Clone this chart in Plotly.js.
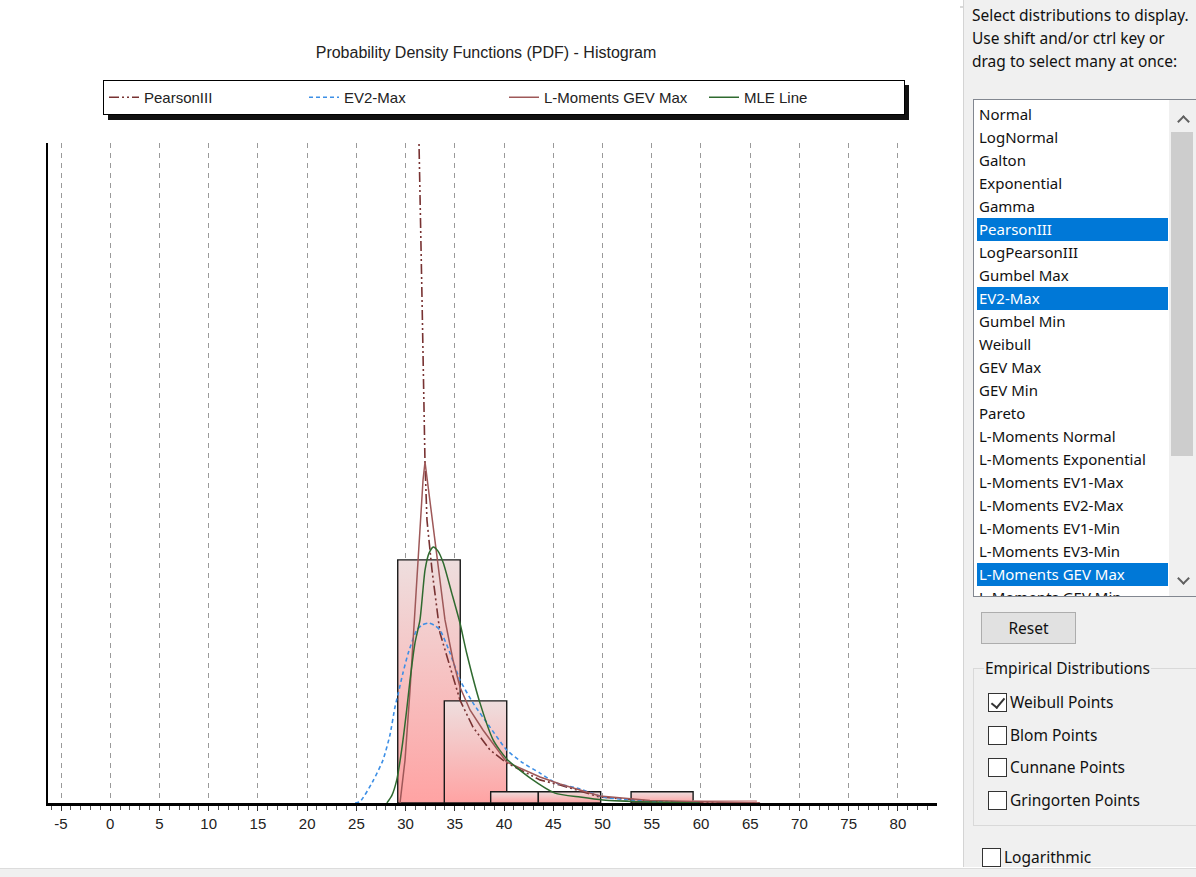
<!DOCTYPE html>
<html>
<head>
<meta charset="utf-8">
<script src="https://cdn.plot.ly/plotly-3.0.1.min.js"></script>
<style>
  html,body{margin:0;padding:0;}
  body{width:1196px;height:877px;overflow:hidden;background:#fff;position:relative;font-family:'Noto Sans',sans-serif;color:#111;}
  #chart{position:absolute;left:0;top:0;width:960px;height:877px;}
  .topline{position:absolute;top:6px;height:2px;background:#d9d9d9;}
  #bottomstrip{position:absolute;left:0;top:868px;width:1196px;height:9px;background:#f0f0f0;border-top:1px solid #dcdcdc;}
  #panel{position:absolute;left:963px;top:0;width:233px;height:867px;background:#f0f0f0;border-left:1px solid #d4d4d4;}
  #hdr{position:absolute;left:8px;top:4px;font-size:15.5px;line-height:23px;white-space:nowrap;}
  #list{position:absolute;left:9px;top:99px;width:223px;height:496px;background:#fff;border:1px solid #828790;overflow:hidden;}
  .item{position:absolute;left:3px;width:191px;height:23px;line-height:23px;font-size:15px;padding-left:2px;box-sizing:border-box;white-space:nowrap;}
  .item.sel{background:#0078d7;color:#fff;}
  #sb{position:absolute;left:195px;top:0;width:28px;height:496px;background:#f0f0f0;}
  #thumb{position:absolute;left:2px;top:32px;width:22px;height:324px;background:#cdcdcd;}
  .chev{position:absolute;width:7px;height:7px;border-left:2px solid #606060;border-top:2px solid #606060;}
  #reset{position:absolute;left:17px;top:612px;width:95px;height:32px;background:#e1e1e1;border:1px solid #adadad;box-sizing:border-box;font-size:15.5px;line-height:30px;text-align:center;}
  #group{position:absolute;left:9px;top:668px;width:230px;height:158px;border:1px solid #d9d9d9;box-sizing:border-box;}
  #glabel{position:absolute;left:20px;top:656px;background:#f0f0f0;font-size:15.5px;line-height:24px;padding:0 1px;white-space:nowrap;}
  .cb{position:absolute;width:19px;height:19px;border:1px solid #333;background:#fff;box-sizing:border-box;}
  .cbl{position:absolute;font-size:15.5px;line-height:20px;white-space:nowrap;}
  .tick{position:absolute;left:5px;top:1px;width:6px;height:11px;border-right:2px solid #333;border-bottom:2px solid #333;transform:rotate(40deg);}
</style>
</head>
<body>
<div class="topline" style="left:0;width:215px;"></div>
<div class="topline" style="left:485px;width:478px;"></div>
<div id="chart"></div>
<div id="bottomstrip"></div>
<div id="panel"></div>
<script>
// ---------------- DATA ----------------
const binLeft    = [29.2, 33.93, 38.64, 43.48, 52.9, 59.2];
const binRight   = [35.55, 40.27, 43.48, 49.81, 59.2, 65.6];
const binDensity = [0.1105, 0.0464, 0.0051, 0.0051, 0.0051, 0.0009];

const pearsonX = [31.3, 31.36, 31.67, 31.82, 31.97, 32.17, 32.68, 33.49, 34.51, 35.52, 36.84, 38.57, 40.27, 43.65, 45.68, 49.73, 54.82, 59.89, 66.0];
const pearsonY = [0.36, 0.300, 0.2286, 0.1832, 0.1545, 0.1286, 0.1059, 0.0773, 0.0618, 0.0468, 0.0345, 0.0241, 0.0182, 0.0105, 0.0082, 0.0027, 0.0009, 0.0002, 0];

const ev2X = [24.87, 25.37, 26.69, 27.7, 28.41, 28.92, 29.26, 29.73, 30.27, 31.13, 31.67, 32.3, 32.88, 33.49, 34.51, 35.52, 36.84, 38.57, 40.27, 41.92, 43.65, 45.27, 47.72, 50.05, 52.79, 55.84, 59.89];
const ev2Y = [0, 0.0006, 0.010, 0.0195, 0.0309, 0.0436, 0.050, 0.0591, 0.0682, 0.0786, 0.0809, 0.0818, 0.0809, 0.0786, 0.0682, 0.056, 0.0455, 0.0345, 0.0241, 0.0182, 0.0136, 0.0091, 0.0064, 0.0027, 0.0014, 0.0005, 0];

const lgevX = [29.43, 29.94, 30.45, 30.76, 31.16, 31.46, 31.77, 31.97, 32.47, 33.08, 33.59, 34.0, 34.81, 35.52, 36.54, 37.86, 40.27, 43.65, 45.68, 49.73, 54.82, 59.89, 66.0];
const lgevY = [0, 0.0195, 0.0514, 0.0741, 0.1014, 0.1286, 0.1468, 0.155, 0.1377, 0.115, 0.0968, 0.0832, 0.065, 0.0527, 0.0423, 0.0332, 0.0186, 0.0118, 0.0086, 0.0032, 0.0011, 0.0005, 0];

const mleX = [28.1, 28.62, 29.1, 29.6, 30.11, 30.45, 30.95, 31.46, 31.97, 32.38, 32.81, 33.29, 33.83, 34.68, 35.52, 36.2, 37.55, 38.9, 40.27, 42.63, 45.17, 47.72, 50.05, 54.82, 59.89];
const mleY = [0, 0.0036, 0.0105, 0.0241, 0.0423, 0.0559, 0.0727, 0.0832, 0.1059, 0.1136, 0.1164, 0.1145, 0.1091, 0.0955, 0.0818, 0.0682, 0.0455, 0.0286, 0.020, 0.0114, 0.0045, 0.0027, 0.0014, 0.0005, 0];

const seriesNames = ["PearsonIII", "EV2-Max", "L-Moments GEV Max", "MLE Line"];
const xTickVals = [-5, 0, 5, 10, 15, 20, 25, 30, 35, 40, 45, 50, 55, 60, 65, 70, 75, 80];

const distributions = ["Normal","LogNormal","Galton","Exponential","Gamma","PearsonIII","LogPearsonIII","Gumbel Max","EV2-Max","Gumbel Min","Weibull","GEV Max","GEV Min","Pareto","L-Moments Normal","L-Moments Exponential","L-Moments EV1-Max","L-Moments EV2-Max","L-Moments EV1-Min","L-Moments EV3-Min","L-Moments GEV Max","L-Moments GEV Min"];
const selectedDistributions = ["PearsonIII","EV2-Max","L-Moments GEV Max"];
const empiricalOptions = ["Weibull Points","Blom Points","Cunnane Points","Gringorten Points"];
const empiricalChecked = [true, false, false, false];

// ---------------- CHART ----------------
const fam = "'Liberation Sans', Arial, sans-serif";
const traces = [];
for (let i = 0; i < binLeft.length; i++) {
  traces.push({
    type: 'scatter', mode: 'lines',
    x: [binLeft[i], binLeft[i], binRight[i], binRight[i], binLeft[i]],
    y: [0, binDensity[i], binDensity[i], 0, 0],
    fill: 'toself',
    fillgradient: {type: 'vertical', colorscale: [[0, '#ffa3a3'], [1, '#eedede']]},
    line: {color: binDensity[i] < 0.002 ? '#d79a9a' : '#1a1a1a', width: 1.4},
    showlegend: false, hoverinfo: 'skip'
  });
}
traces.push({type:'scatter', mode:'lines', name: seriesNames[0], x: pearsonX, y: pearsonY,
  line:{color:'#783232', width:1.6, dash:'10px,3px,2px,3px,2px,3px'}});
traces.push({type:'scatter', mode:'lines', name: seriesNames[1], x: ev2X, y: ev2Y, line:{shape:'spline', smoothing:0.6, color:'#3d8fe6', width:1.6, dash:'4px,3px'}});
traces.push({type:'scatter', mode:'lines', name: seriesNames[2], x: lgevX, y: lgevY, line:{color:'#9e5858', width:1.5}});
traces.push({type:'scatter', mode:'lines', name: seriesNames[3], x: mleX, y: mleY, line:{shape:'spline', smoothing:0.6, color:'#2f6a2f', width:1.5}});

const W = 960, H = 877, mL = 48, mR = 23, mT = 143, mB = 74;
const pw = W - mL - mR, ph = H - mT - mB;
const px2x = p => (p - mL) / pw;
const py2y = p => (H - mB - p) / ph;

const layout = {
  width: W, height: H,
  margin: {l: mL, r: mR, t: mT, b: mB, pad: 0},
  paper_bgcolor: '#ffffff', plot_bgcolor: '#ffffff',
  font: {family: fam, size: 15, color: '#222'},
  title: {text: 'Probability Density Functions (PDF) - Histogram', x: 486 / W, xref: 'container', xanchor: 'center',
          y: 1 - 52 / H, yref: 'container', yanchor: 'middle', font: {family: fam, size: 16, color: '#222'}},
  xaxis: {range: [-6.32, 83.97], tickvals: xTickVals, ticktext: xTickVals.map(String),
          showline: true, linecolor: '#000', linewidth: 3, zeroline: false,
          showgrid: true, gridcolor: '#9a9a9a', gridwidth: 1, griddash: '5px,5px',
          ticks: 'outside', ticklen: 5, tickcolor: '#333', tickwidth: 1,
          minor: {dtick: 1, tick0: 0, ticks: 'outside', ticklen: 4, tickcolor: '#555', tickwidth: 1, showgrid: false},
          tickfont: {family: fam, size: 15, color: '#222'}, fixedrange: true},
  yaxis: {range: [0, 0.3], showline: true, linecolor: '#000', linewidth: 2, zeroline: false,
          showgrid: false, showticklabels: false, ticks: '', fixedrange: true},
  showlegend: true,
  legend: {orientation: 'h', x: px2x(103), xanchor: 'left', y: py2y(80), yanchor: 'top',
           bgcolor: '#ffffff', bordercolor: '#000', borderwidth: 1,
           entrywidth: 155, entrywidthmode: 'pixels',
           font: {family: fam, size: 15, color: '#222'}, traceorder: 'normal'},
  shapes: [
    {type: 'rect', xref: 'paper', yref: 'paper', x0: px2x(108), x1: px2x(909), y0: py2y(120), y1: py2y(85),
     fillcolor: '#111', line: {width: 0}, layer: 'above'}
  ]
};
Plotly.newPlot('chart', traces, layout, {displayModeBar: false, staticPlot: true});

// ---------------- PANEL ----------------
const panel = document.getElementById('panel');
let html = '<div id="hdr">Select distributions to display.<br>Use shift and/or ctrl key or<br>drag to select many at once:</div>';
html += '<div id="list">';
distributions.forEach((d, i) => {
  const sel = selectedDistributions.includes(d) ? ' sel' : '';
  html += '<div class="item' + sel + '" style="top:' + (3 + 23 * i) + 'px">' + d + '</div>';
});
html += '<div id="sb"><div class="chev" style="left:10px;top:17px;transform:rotate(45deg);"></div>' +
        '<div id="thumb"></div>' +
        '<div class="chev" style="left:10px;top:474px;transform:rotate(225deg);"></div></div>';
html += '</div>';
html += '<div id="reset">Reset</div>';
html += '<div id="group"></div><div id="glabel">Empirical Distributions</div>';
empiricalOptions.forEach((o, i) => {
  const top = 693 + 32.7 * i;
  html += '<div class="cb" style="left:24px;top:' + top + 'px">' + (empiricalChecked[i] ? '<div class="tick"></div>' : '') + '</div>';
  html += '<div class="cbl" style="left:46px;top:' + (top - 1) + 'px">' + o + '</div>';
});
html += '<div class="cb" style="left:18px;top:848px"></div><div class="cbl" style="left:40px;top:847px">Logarithmic</div>';
panel.innerHTML = html;
</script>
</body>
</html>
